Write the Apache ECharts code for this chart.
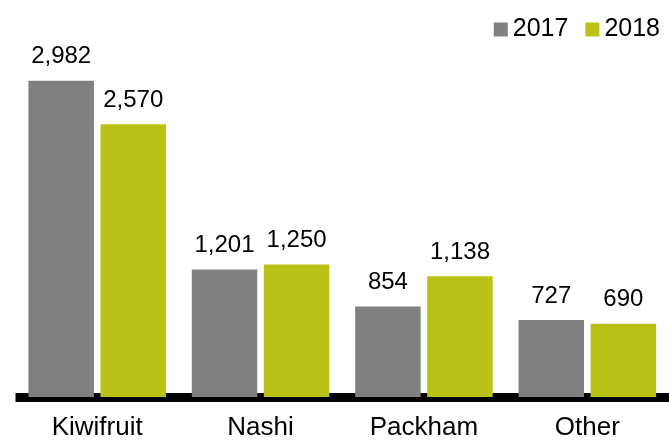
<!DOCTYPE html>
<html>
<head>
<meta charset="utf-8">
<title>Fruit volumes 2017 vs 2018</title>
<script src="https://cdn.jsdelivr.net/npm/echarts@6/dist/echarts.min.js"></script>
<style>
  html, body { margin: 0; padding: 0; background: #ffffff; }
  #chart { width: 669px; height: 441px; }
</style>
</head>
<body>
<div id="chart"></div>
<script>
// Categories and yearly values
const categories = ['Kiwifruit', 'Nashi', 'Packham', 'Other'];
const seriesNames = ['2017', '2018'];
const values2017 = [2982, 1201, 854, 727];
const values2018 = [2570, 1250, 1138, 690];

const FONT = '"Liberation Sans", Arial, sans-serif';
const fmt = v => v.toLocaleString('en-US');

const chart = echarts.init(document.getElementById('chart'), null, { renderer: 'canvas' });

const labelStyle = {
  show: true,
  position: 'top',
  distance: 12,
  fontFamily: FONT,
  fontSize: 24,
  color: '#000000',
  formatter: p => fmt(p.value)
};

chart.setOption({
  animation: false,
  backgroundColor: '#ffffff',
  legend: {
    data: seriesNames,
    right: 4,
    top: 12,
    itemWidth: 14,
    itemHeight: 14,
    itemGap: 17,
    icon: 'rect',
    textStyle: { fontFamily: FONT, fontSize: 25, color: '#000000', padding: [0, 0, 0, 0] }
  },
  grid: { left: 15.5, right: 0, top: 25.7, bottom: 43.8, containLabel: false },
  xAxis: {
    type: 'category',
    data: categories,
    axisLine: { show: true, lineStyle: { color: '#000000', width: 9, cap: 'butt' } },
    axisTick: { show: false },
    axisLabel: { fontFamily: FONT, fontSize: 26, color: '#000000', margin: 18 }
  },
  yAxis: {
    type: 'value',
    min: 0,
    max: 3500,
    show: false,
    splitLine: { show: false }
  },
  series: [
    {
      name: seriesNames[0],
      type: 'bar',
      data: values2017,
      barWidth: 65.5,
      barGap: '10%',
      itemStyle: { color: '#808080' },
      label: labelStyle
    },
    {
      name: seriesNames[1],
      type: 'bar',
      data: values2018,
      barWidth: 65.5,
      barGap: '10%',
      itemStyle: { color: '#bbc217' },
      label: labelStyle
    }
  ]
});
</script>
</body>
</html>
